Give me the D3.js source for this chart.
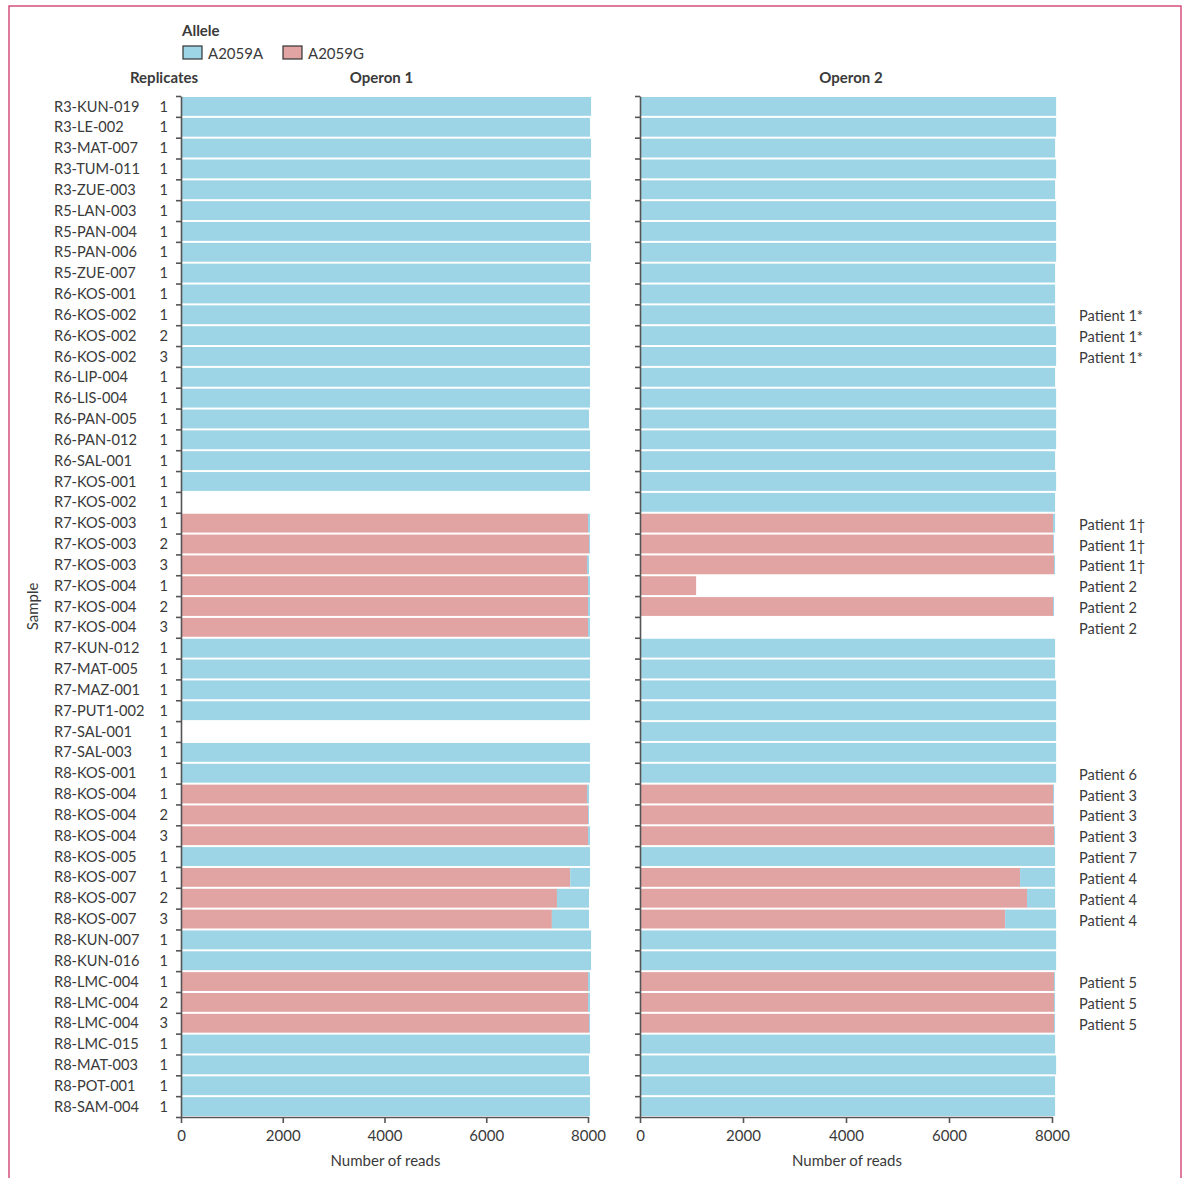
<!DOCTYPE html>
<html>
<head>
<meta charset="utf-8">
<script src="https://cdn.jsdelivr.net/npm/d3@7/dist/d3.min.js"></script>
<style>
  html, body { margin: 0; padding: 0; background: #fff; }
  svg text { font-family: Lato, "Open Sans", sans-serif; fill: #3a3a3a; }
</style>
</head>
<body>
<svg id="chart" width="1184" height="1178"></svg>
<script>
// Samples (one row per sequencing replicate)
const samples = [
  "R3-KUN-019","R3-LE-002","R3-MAT-007","R3-TUM-011","R3-ZUE-003",
  "R5-LAN-003","R5-PAN-004","R5-PAN-006","R5-ZUE-007",
  "R6-KOS-001","R6-KOS-002","R6-KOS-002","R6-KOS-002","R6-LIP-004","R6-LIS-004",
  "R6-PAN-005","R6-PAN-012","R6-SAL-001",
  "R7-KOS-001","R7-KOS-002","R7-KOS-003","R7-KOS-003","R7-KOS-003",
  "R7-KOS-004","R7-KOS-004","R7-KOS-004","R7-KUN-012","R7-MAT-005","R7-MAZ-001",
  "R7-PUT1-002","R7-SAL-001","R7-SAL-003",
  "R8-KOS-001","R8-KOS-004","R8-KOS-004","R8-KOS-004","R8-KOS-005",
  "R8-KOS-007","R8-KOS-007","R8-KOS-007","R8-KUN-007","R8-KUN-016",
  "R8-LMC-004","R8-LMC-004","R8-LMC-004","R8-LMC-015","R8-MAT-003","R8-POT-001","R8-SAM-004"
];
const replicates = [
  1,1,1,1,1, 1,1,1,1, 1,1,2,3,1,1,1,1,1,
  1,1,1,2,3,1,2,3,1,1,1,1,1,1,
  1,1,2,3,1,1,2,3,1,1,1,2,3,1,1,1,1
];

// Read counts per allele, operon 1
const operon1A = [
  8060,8040,8060,8040,8060, 8040,8040,8060,8040,
  8040,8040,8040,8040,8040,8040,8020,8040,8040,
  8040,0,40,20,40,40,40,40,8040,8040,8040,8040,0,8040,
  8040,40,20,40,8040,390,630,730,8060,8060,40,40,20,8040,8020,8040,8040
];
const operon1G = [
  0,0,0,0,0, 0,0,0,0,
  0,0,0,0,0,0,0,0,0,
  0,0,8000,8020,7980,8000,8000,8000,0,0,0,0,0,0,
  0,7980,8000,8000,0,7650,7390,7290,0,0,8000,8000,8020,0,0,0,0
];

// Read counts per allele, operon 2
const operon2A = [
  8080,8080,8060,8080,8060, 8080,8080,8080,8060,
  8060,8060,8080,8080,8060,8080,8080,8080,8060,
  8080,8060,40,20,20,0,20,0,8060,8060,8080,8080,8080,8080,
  8080,20,20,20,8060,680,545,990,8080,8080,20,20,20,8060,8080,8060,8060
];
const operon2G = [
  0,0,0,0,0, 0,0,0,0,
  0,0,0,0,0,0,0,0,0,
  0,0,8020,8020,8040,1090,8020,0,0,0,0,0,0,0,
  0,8020,8020,8040,0,7380,7515,7090,0,0,8040,8040,8040,0,0,0,0
];

const patients = [
  "","","","","", "","","","",
  "","Patient 1*","Patient 1*","Patient 1*","","","","","",
  "","","Patient 1\u2020","Patient 1\u2020","Patient 1\u2020","Patient 2","Patient 2","Patient 2","","","","","","",
  "Patient 6","Patient 3","Patient 3","Patient 3","Patient 7","Patient 4","Patient 4","Patient 4","","",
  "Patient 5","Patient 5","Patient 5","","","",""
];

const alleles = ["A2059A", "A2059G"];
const xTicks = [0, 2000, 4000, 6000, 8000];

const colors = { A2059A: "#9dd4e6", A2059G: "#e1a4a2" };

const svg = d3.select("#chart");

// page frame
svg.append("rect")
  .attr("x", 9).attr("y", 6).attr("width", 1172).attr("height", 1200)
  .attr("fill", "none").attr("stroke", "#d4507c").attr("stroke-width", 1.5);

const rows = d3.range(samples.length);
const yTop = 96, yBottom = 1117;
const y = d3.scaleBand().domain(rows).range([yTop, yBottom]).padding(0);
const yEdge = d3.scaleLinear().domain([0, rows.length]).range([yTop, yBottom]);

const panels = [
  { title: "Operon 1", titleShift: -3, A: operon1A, G: operon1G, x: d3.scaleLinear().domain([0, 8000]).range([181, 588]) },
  { title: "Operon 2", titleShift: 5, A: operon2A, G: operon2G, x: d3.scaleLinear().domain([0, 8000]).range([640, 1052]) }
];

panels.forEach(p => {
  const g = svg.append("g");
  const stacked = rows.map(i => ({ i, G: p.G[i], A: p.A[i] }));
  // G allele drawn from zero, A allele stacked after it
  g.selectAll("rect.g").data(stacked).join("rect")
    .attr("x", d => p.x(0))
    .attr("y", d => y(d.i) + 1)
    .attr("width", d => p.x(d.G) - p.x(0))
    .attr("height", y.bandwidth() - 2)
    .attr("fill", colors.A2059G);
  g.selectAll("rect.a").data(stacked).join("rect")
    .attr("x", d => p.x(d.G))
    .attr("y", d => y(d.i) + 1)
    .attr("width", d => p.x(d.G + d.A) - p.x(d.G))
    .attr("height", y.bandwidth() - 2)
    .attr("fill", colors.A2059A);

  // y axis: ticks at row boundaries
  const ya = svg.append("g")
    .attr("transform", `translate(${p.x(0)},0)`)
    .call(d3.axisLeft(yEdge).tickValues(d3.range(rows.length + 1)).tickFormat("").tickSize(5).tickSizeOuter(0));
  ya.selectAll("path, line").attr("stroke", "#555").attr("stroke-width", 1.6);

  // x axis
  const xa = svg.append("g")
    .attr("transform", `translate(0,${yBottom})`)
    .call(d3.axisBottom(p.x).tickValues(xTicks).tickFormat(d3.format("d")).tickSize(6).tickSizeOuter(0));
  xa.selectAll("path, line").attr("stroke", "#555").attr("stroke-width", 1.6);
  xa.selectAll("text").attr("font-size", 15).attr("dy", "1.0em")
    .style("font-family", "Lato, sans-serif").attr("fill", "#3a3a3a");

  svg.append("text")
    .attr("x", (p.x(0) + p.x(8000)) / 2 + 1).attr("y", 1166)
    .attr("text-anchor", "middle").attr("font-size", 15)
    .text("Number of reads");

  svg.append("text")
    .attr("x", (p.x(0) + p.x(8000)) / 2 + p.titleShift).attr("y", 83)
    .attr("text-anchor", "middle").attr("font-size", 15).attr("font-weight", "bold")
    .text(p.title);
});

// row labels
svg.append("g").selectAll("text").data(rows).join("text")
  .attr("x", 54).attr("y", i => y(i) + y.bandwidth() / 2)
  .attr("dy", "0.35em").attr("font-size", 14.6)
  .text(i => samples[i]);
svg.append("g").selectAll("text").data(rows).join("text")
  .attr("x", 168).attr("y", i => y(i) + y.bandwidth() / 2)
  .attr("dy", "0.35em").attr("font-size", 14.6).attr("text-anchor", "end")
  .text(i => replicates[i]);
svg.append("g").selectAll("text").data(rows.filter(i => patients[i])).join("text")
  .attr("x", 1079).attr("y", i => y(i) + y.bandwidth() / 2)
  .attr("dy", "0.45em").attr("font-size", 14.6)
  .text(i => patients[i]);

svg.append("text")
  .attr("x", 164).attr("y", 83).attr("text-anchor", "middle")
  .attr("font-size", 15).attr("font-weight", "bold").text("Replicates");

svg.append("text")
  .attr("transform", `translate(38,${(yTop + yBottom) / 2}) rotate(-90)`)
  .attr("text-anchor", "middle").attr("font-size", 15).text("Sample");

// legend
svg.append("text").attr("x", 182).attr("y", 36)
  .attr("font-size", 15).attr("font-weight", "bold").text("Allele");
const leg = svg.append("g").selectAll("g").data(alleles).join("g")
  .attr("transform", (d, i) => `translate(${183 + i * 100},46)`);
leg.append("rect").attr("width", 19).attr("height", 13)
  .attr("fill", d => colors[d]).attr("stroke", "#333").attr("stroke-width", 1.2);
leg.append("text").attr("x", 25).attr("y", 7).attr("dy", "0.37em")
  .attr("font-size", 15).text(d => d);
</script>
</body>
</html>
